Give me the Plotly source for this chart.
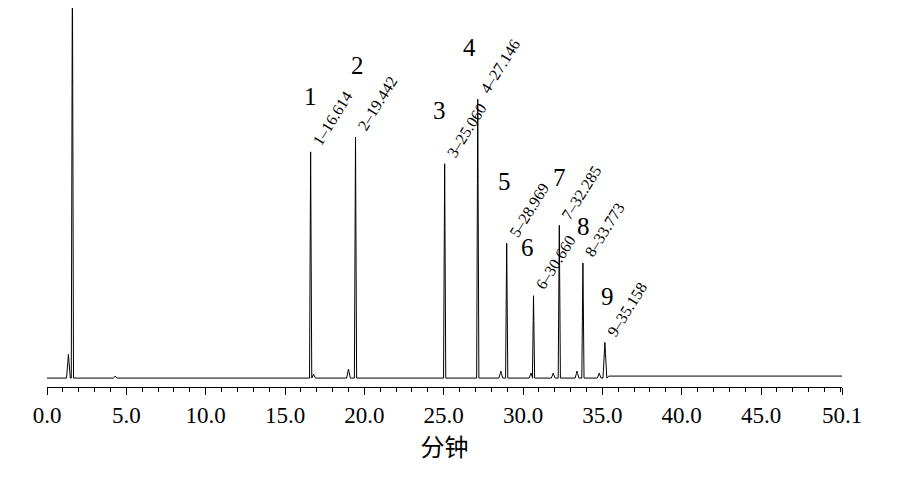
import plotly.graph_objects as go

peak_ids = [1, 2, 3, 4, 5, 6, 7, 8, 9]
peak_times = [16.614, 19.442, 25.060, 27.146, 28.969, 30.660, 32.285, 33.773, 35.158]
peak_heights = [229, 244, 217, 282, 137, 84, 155, 117, 37]
minor_times = [1.35, 1.6, 4.3, 16.8, 19.0, 28.6, 30.5, 31.9, 33.4, 34.8]
minor_heights = [25, 420, 3, 5, 10, 8, 6, 6, 8, 6]
tick_vals = [0, 5, 10, 15, 20, 25, 30, 35, 40, 45, 50.1]
tick_text = ["0.0", "5.0", "10.0", "15.0", "20.0", "25.0", "30.0", "35.0", "40.0", "45.0", "50.1"]

# label placement (pixels above apex, horizontal shift)
num_dy = [55, 71, 53, 52, 62, 48, 48, 36, 46]
num_dx = [0, 2, -5, -8, -2, -6, 0, 1, 3]

events = sorted(list(zip(peak_times, peak_heights)) + list(zip(minor_times, minor_heights)))
xs, ys = [0.0], [1.0]
for t, h in events:
    w = 0.07 if h > 50 else 0.12
    xs += [t - w, t - w * 0.3, t, t + w * 0.3, t + w]
    ys += [1.0, h * 0.7, h, h * 0.7, 1.0]
xs += [35.4, 50.1]
ys += [3.0, 3.0]

fig = go.Figure(go.Scatter(x=xs, y=ys, mode="lines", line=dict(color="black", width=1), hoverinfo="skip"))

ser = "Liberation Serif"
for i, t, h, dy, dx in zip(peak_ids, peak_times, peak_heights, num_dy, num_dx):
    fig.add_annotation(x=t, y=h, text=str(i), showarrow=False, yshift=dy, xshift=dx,
                       yanchor="middle", font=dict(family=ser, size=25, color="black"))
    fig.add_annotation(x=t, y=h, text=f"{i}–{t:.3f}", showarrow=False, textangle=-58,
                       xshift=22, yshift=33, font=dict(family=ser, size=16, color="black"))

fig.update_layout(
    width=907, height=482, margin=dict(l=39, r=73, t=0, b=103),
    font=dict(family=ser, color="black"),
    plot_bgcolor="white", paper_bgcolor="white", showlegend=False,
    xaxis=dict(range=[0, 50.1], tickvals=tick_vals, ticktext=tick_text, ticks="outside",
               ticklen=7, tickcolor="black", showline=True, linecolor="black", showgrid=False,
               zeroline=False, tickfont=dict(family=ser, size=23, color="black"),
               minor=dict(dtick=1, ticks="outside", ticklen=4, tickcolor="black"),
               title=dict(text="分钟", font=dict(family="Noto Sans CJK SC", size=24, color="black"), standoff=6)),
    yaxis=dict(range=[-8, 374], visible=False),
)
fig.write_html("out.html")
